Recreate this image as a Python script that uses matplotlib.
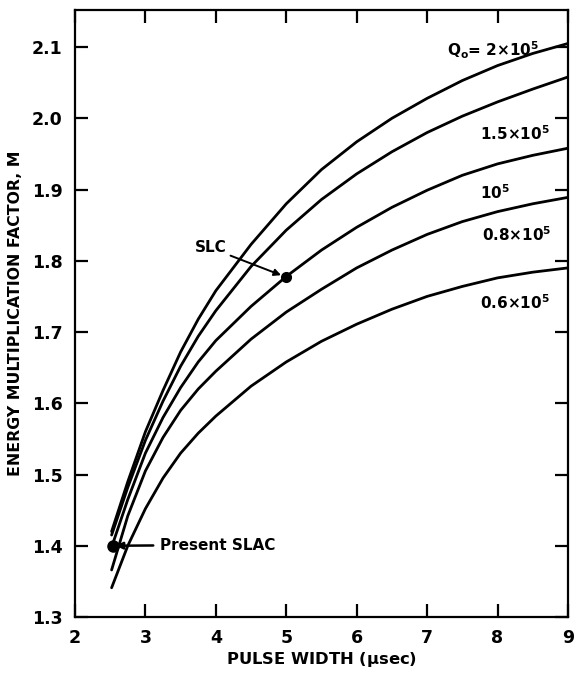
import numpy as np
import matplotlib.pyplot as plt

pulse = [2.52, 2.75, 3.0, 3.25, 3.5, 3.75, 4.0, 4.5, 5.0, 5.5, 6.0, 6.5, 7.0, 7.5, 8.0, 8.5, 9.0]

# energy multiplication factor M for each Q0
m_q2e5 = [1.420, 1.490, 1.560, 1.618, 1.672, 1.718, 1.758, 1.823, 1.880, 1.928,
          1.967, 2.000, 2.028, 2.053, 2.074, 2.091, 2.105]
m_q15e5 = [1.415, 1.482, 1.548, 1.603, 1.652, 1.694, 1.730, 1.792, 1.843, 1.886,
           1.922, 1.953, 1.980, 2.003, 2.023, 2.041, 2.058]
m_q1e5 = [1.398, 1.465, 1.530, 1.580, 1.622, 1.658, 1.688, 1.736, 1.778, 1.815,
          1.847, 1.875, 1.899, 1.920, 1.936, 1.948, 1.958]
m_q08e5 = [1.366, 1.442, 1.505, 1.552, 1.590, 1.620, 1.645, 1.690, 1.728, 1.760,
           1.790, 1.815, 1.837, 1.855, 1.869, 1.880, 1.889]
m_q06e5 = [1.341, 1.400, 1.452, 1.495, 1.530, 1.558, 1.582, 1.624, 1.658, 1.687,
           1.711, 1.732, 1.750, 1.764, 1.776, 1.784, 1.790]

curve_labels = ["Q$_{\\mathbf{o}}$= 2×10$^{\\mathbf{5}}$", "1.5×10$^{\\mathbf{5}}$",
                "10$^{\\mathbf{5}}$", "0.8×10$^{\\mathbf{5}}$", "0.6×10$^{\\mathbf{5}}$"]
label_pos = [(7.28, 2.096), (7.75, 1.979), (7.75, 1.896), (7.78, 1.836), (7.75, 1.741)]

slc_point = (5.0, 1.777)
slac_point = (2.54, 1.400)

plt.figure(figsize=(5.75, 6.76), dpi=100)
ax = plt.axes([0.1304, 0.0873, 0.8574, 0.8979])

for m in [m_q2e5, m_q15e5, m_q1e5, m_q08e5, m_q06e5]:
    ax.plot(pulse, m, color='black', linewidth=2.0, solid_capstyle='round')

for txt, (x, y) in zip(curve_labels, label_pos):
    ax.text(x, y, txt, fontsize=11, fontweight='bold', ha='left', va='center')

# marked operating points
ax.plot(*slc_point, 'o', color='black', markersize=7)
ax.plot(*slac_point, 'o', color='black', markersize=8)

ax.annotate('SLC', xy=slc_point, xytext=(3.70, 1.818), fontsize=11,
            fontweight='bold', ha='left', va='center',
            arrowprops=dict(arrowstyle='-|>', color='black', lw=1.4,
                            shrinkA=1, shrinkB=4, mutation_scale=10))
ax.annotate('Present SLAC', xy=slac_point, xytext=(3.21, 1.401), fontsize=11,
            fontweight='bold', ha='left', va='center',
            arrowprops=dict(arrowstyle='-|>', color='black', lw=1.8,
                            shrinkA=3, shrinkB=2, mutation_scale=10))

ax.set_xlim(2, 9)
ax.set_ylim(1.3, 2.152)
ax.set_xticks(range(2, 10))
ax.set_yticks(np.arange(1.3, 2.11, 0.1))
ax.set_yticklabels([f'{v:.1f}' for v in np.arange(1.3, 2.11, 0.1)])
ax.tick_params(direction='in', length=9.5, width=1.6, top=True, right=True,
               labelsize=12.5, pad=9)
for lab in ax.get_xticklabels() + ax.get_yticklabels():
    lab.set_fontweight('bold')
for s in ax.spines.values():
    s.set_linewidth(1.6)

ax.set_xlabel('PULSE WIDTH ($\\mathbf{\\mu}$sec)', fontsize=11.8, fontweight='bold', labelpad=2)
ax.set_ylabel('ENERGY MULTIPLICATION FACTOR, M', fontsize=11.3, fontweight='bold', labelpad=6)

plt.savefig('out.png', dpi=100)
